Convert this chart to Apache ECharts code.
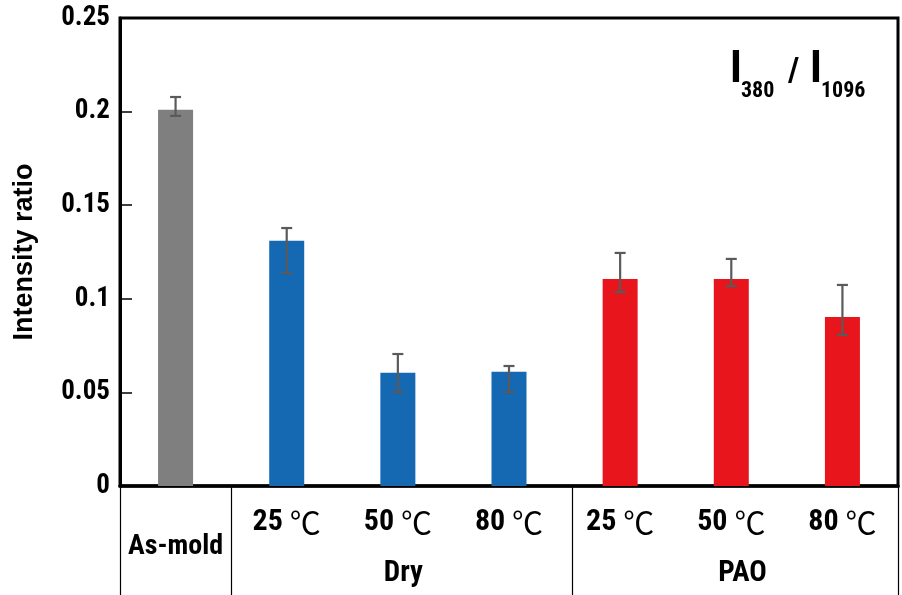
<!DOCTYPE html>
<html>
<head>
<meta charset="utf-8">
<script src="https://cdn.jsdelivr.net/npm/echarts@6/dist/echarts.min.js"></script>
<style>html,body{margin:0;padding:0;background:#fff;}#c{width:902px;height:595px;}</style>
</head>
<body>
<div id="c"></div>
<script>
// ---- data ----
const categories = ['As-mold', 'Dry 25', 'Dry 50', 'Dry 80', 'PAO 25', 'PAO 50', 'PAO 80'];
const tempLabels = ['As-mold', '25', '50', '80', '25', '50', '80'];
const values = [0.201, 0.131, 0.0605, 0.061, 0.1106, 0.1106, 0.0903];
const errLow = [0.1977, 0.1138, 0.0502, 0.0502, 0.1036, 0.1068, 0.0807];
const errHigh = [0.2078, 0.1378, 0.0705, 0.0641, 0.1245, 0.1213, 0.1074];
const barColors = ['#7f7f7f', '#1569b2', '#1569b2', '#1569b2', '#e8151d', '#e8151d', '#e8151d'];
const yTicks = [0, 0.05, 0.1, 0.15, 0.2, 0.25];
const groupNames = ['Dry', 'PAO'];
const groupLabelPos = [2.55, 5.6];
const groupBoundaries = [0, 1, 4.07, 7];

const NARROW = "'Roboto Condensed', 'Liberation Sans Narrow', sans-serif";
const CJK = "'Noto Sans CJK SC', 'Noto Sans CJK JP', sans-serif";

const chart = echarts.init(document.getElementById('c'));
chart.setOption({
  animation: false,
  backgroundColor: '#fff',
  grid: { left: 120, right: 4, top: 18, bottom: 109, show: true, borderColor: '#000', borderWidth: 3,
    containLabel: false, outerBoundsMode: 'none' },
  xAxis: [{
    type: 'category',
    data: categories,
    position: 'bottom',
    axisLine: { lineStyle: { color: '#000', width: 3.5 } },
    axisTick: { show: false },
    axisLabel: {
      margin: 19,
      interval: 0,
      formatter: function (v, i) {
        if (i === 0) return '{m|' + tempLabels[i] + '}';
        return '{t|' + tempLabels[i] + ' }{c|℃}';
      },
      rich: {
        t: { fontFamily: NARROW, fontWeight: 'bold', fontSize: 30, color: '#000', lineHeight: 34 },
        c: { fontFamily: CJK, fontWeight: 'normal', fontSize: 31, color: '#000', lineHeight: 34 },
        m: { fontFamily: NARROW, fontWeight: 'bold', fontSize: 28, color: '#000', lineHeight: 32, padding: [52, 0, 0, 0] }
      }
    }
  }, {
    type: 'value',
    min: 0, max: 7,
    position: 'bottom',
    axisLine: { show: false },
    splitLine: { show: false },
    axisTick: { show: true, customValues: groupBoundaries, length: 110, inside: false, lineStyle: { color: '#000', width: 1.2 } },
    axisLabel: {
      customValues: groupLabelPos,
      margin: 73,
      formatter: function (v) {
        const k = groupLabelPos.indexOf(v);
        return k >= 0 ? groupNames[k] : '';
      },
      fontFamily: NARROW, fontWeight: 'bold', fontSize: 29, color: '#000'
    }
  }],
  yAxis: {
    type: 'value',
    min: yTicks[0], max: yTicks[yTicks.length - 1], interval: 0.05,
    name: 'Intensity ratio',
    nameLocation: 'middle',
    nameGap: 82,
    nameRotate: 90,
    nameTextStyle: { fontFamily: "'Liberation Sans', Arial, sans-serif", fontWeight: 'bold', fontSize: 27, color: '#000' },
    axisLine: { show: true, lineStyle: { color: '#000', width: 3 } },
    axisTick: { show: true, inside: true, length: 12, lineStyle: { color: '#000', width: 1.5 } },
    splitLine: { show: false },
    axisLabel: { margin: 10, fontFamily: NARROW, fontWeight: 'bold', fontSize: 27, color: '#000',
      formatter: function (v) { return String(+v.toFixed(2)); } }
  },
  series: [{
    type: 'bar',
    xAxisIndex: 0,
    barWidth: 35,
    data: values.map((v, i) => ({ value: v, itemStyle: { color: barColors[i] } }))
  }, {
    type: 'custom',
    xAxisIndex: 0,
    z: 5,
    data: categories.map((c, i) => [i, errLow[i], errHigh[i]]),
    encode: { x: 0, y: [1, 2] },
    renderItem: function (params, api) {
      const x = api.value(0);
      const lo = api.coord([x, api.value(1)]);
      const hi = api.coord([x, api.value(2)]);
      const hw = 5.5;
      const st = { stroke: '#5a5a5a', lineWidth: 2.2 };
      return {
        type: 'group',
        children: [
          { type: 'line', shape: { x1: hi[0], y1: hi[1], x2: lo[0], y2: lo[1] }, style: st },
          { type: 'line', shape: { x1: hi[0] - hw, y1: hi[1], x2: hi[0] + hw, y2: hi[1] }, style: st },
          { type: 'line', shape: { x1: lo[0] - hw, y1: lo[1], x2: lo[0] + hw, y2: lo[1] }, style: st }
        ]
      };
    }
  }],
  graphic: [
    { type: 'text', left: 730, top: 49, style: { text: 'I', font: 'bold 44px ' + NARROW, fill: '#000' } },
    { type: 'text', left: 741, top: 80, style: { text: '380', font: 'bold 22px ' + NARROW, fill: '#000' } },
    { type: 'text', left: 788, top: 55, style: { text: '/', font: 'bold 34px ' + NARROW, fill: '#000' } },
    { type: 'text', left: 810, top: 49, style: { text: 'I', font: 'bold 44px ' + NARROW, fill: '#000' } },
    { type: 'text', left: 821, top: 80, style: { text: '1096', font: 'bold 22px ' + NARROW, fill: '#000' } }
  ]
});
</script>
</body>
</html>
